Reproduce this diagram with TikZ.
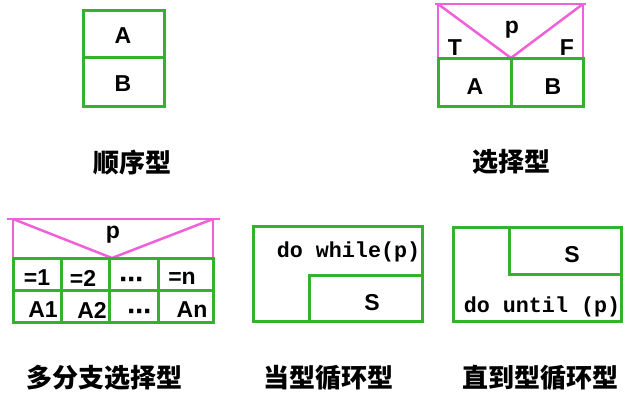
\documentclass[tikz,border=0pt]{standalone}
\usepackage{fontspec}
\newfontfamily\cjk{Noto Sans CJK SC}
\newfontfamily\latf{Liberation Sans}
\newfontfamily\monof{Liberation Mono}
\definecolor{boxgreen}{RGB}{52,178,46}
\definecolor{boxpink}{RGB}{240,96,216}
\tikzset{
  gline/.style={draw=boxgreen,line width=3pt},
  pline/.style={draw=boxpink,line width=2.5pt,line join=miter},
  lbl/.style={inner sep=0pt,font=\latf\bfseries\fontsize{23}{25}\selectfont},
  dots/.style={inner sep=0pt,anchor=base,font=\latf\bfseries\fontsize{30}{32}\selectfont},
  capt/.style={inner sep=0pt,font=\cjk\bfseries\fontsize{26}{28}\selectfont},
  codetxt/.style={inner sep=0pt,font=\monof\bfseries\fontsize{21.7}{24}\selectfont},
}
\begin{document}
\begin{tikzpicture}[x=1pt,y=-1pt]
\useasboundingbox (0,0) rectangle (641,411);
% ---- sequence ----
\draw[gline] (83,11) rectangle (164,107);
\draw[gline] (83,58) -- (164,58);
\node[lbl] (sa) at (123,36) {A};
\node[lbl] (sb) at (123,84) {B};
\node[capt] (c1) at (132,163) {顺序型};
% ---- selection ----
\draw[pline] (435,4) -- (586,4);
\draw[pline] (438,4) -- (438,59);
\draw[pline] (583,4) -- (583,59);
\draw[pline] (438,4) -- (511,58) -- (583,4);
\draw[gline] (438,59) rectangle (583,107);
\draw[gline] (511,59) -- (511,107);
\node[lbl] (xp) at (512,30) {p};
\node[lbl] (xt) at (455,48) {T};
\node[lbl] (xf) at (567,48) {F};
\node[lbl] (xa) at (475,87) {A};
\node[lbl] (xb) at (553,87) {B};
\node[capt] (c2) at (511,162) {选择型};
% ---- multi-branch ----
\draw[pline] (7,219) -- (220,219);
\draw[pline] (13,219) -- (13,259);
\draw[pline] (213,219) -- (213,259);
\draw[pline] (13,219) -- (112,258) -- (213,219);
\draw[gline] (13,259) rectangle (213,323);
\draw[gline] (13,291) -- (213,291);
\foreach \xx in {61,109,158} \draw[gline] (\xx,259) -- (\xx,323);
\node[lbl] (mp) at (113,235) {p};
\node[lbl] (m1) at (37,278) {=1};
\node[lbl] (m2) at (83,278) {=2};
\node[dots] (m3) at (132,290) {·\kern-2pt·\kern-2pt·};
\node[lbl] (m4) at (182,278) {=n};
\node[lbl] (ma1) at (43,310) {A1};
\node[lbl] (ma2) at (92,310) {A2};
\node[dots] (ma3) at (140,322) {·\kern-2pt·\kern-2pt·};
\node[lbl] (ma4) at (192,310) {An};
\node[capt] (c3) at (105,378) {多分支选择型};
% ---- while ----
\draw[gline] (253,227) rectangle (422,322);
\draw[gline] (309,322) -- (309,276) -- (422,276);
\node[codetxt] (wt) at (348.5,252) {do while(p)};
\node[lbl] (ws) at (372,303) {S};
\node[capt] (c4) at (328,378) {当型循环型};
% ---- until ----
\draw[gline] (453,228) rectangle (621,322);
\draw[gline] (509,228) -- (509,275) -- (621,275);
\node[lbl] (us) at (572,255) {S};
\node[codetxt] (ut) at (542,307) {do until (p)};
\node[capt] (c5) at (540.5,378) {直到型循环型};
\end{tikzpicture}
\end{document}
